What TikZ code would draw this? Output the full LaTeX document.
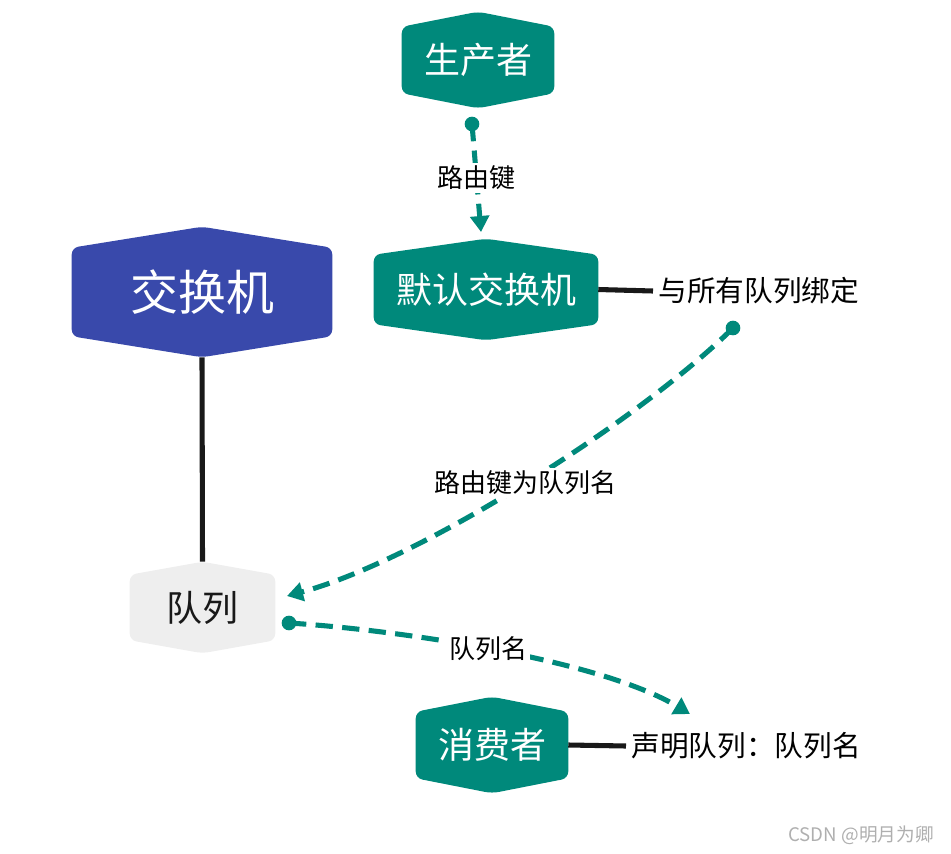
\documentclass[tikz,border=0pt]{standalone}
\usepackage{fontspec}
\setmainfont{Noto Sans CJK SC}
\usetikzlibrary{arrows.meta,backgrounds}
\definecolor{tealc}{RGB}{0,137,123}
\definecolor{bluec}{RGB}{57,73,171}
\definecolor{greyc}{RGB}{238,238,238}
\definecolor{wmark}{RGB}{175,175,175}
\newcommand\hexfill[3]{%
  \fill[#3, rounded corners=5pt] (#1.north) -- ([yshift=-#2]#1.north east) -- ([yshift=#2]#1.south east) -- (#1.south) -- ([yshift=#2]#1.south west) -- ([yshift=-#2]#1.north west) -- cycle;}
\tikzset{
  hexnode/.style={inner sep=0pt, text=white, font=\fontsize{27pt}{27pt}\selectfont},
  lbl/.style={inner sep=4pt, text=black, font=\fontsize{21.5pt}{21.5pt}\selectfont},
  elbl/.style={inner sep=2pt, fill=white, text=black, font=\fontsize{19.5pt}{19.5pt}\selectfont},
  solidline/.style={line width=3.8pt, draw=black!90},
  dashline/.style={line width=3.8pt, draw=tealc, dash pattern=on 13pt off 7pt, -{Triangle[width=14pt,length=12pt]}},
  dotc/.style={fill=tealc},
}
\begin{document}
\begin{tikzpicture}[x=0.75pt,y=-0.75pt]
\useasboundingbox (0,0) rectangle (951,854);
% nodes
\node[hexnode, minimum width=114pt, minimum height=72pt] (pro) at (478,60) {生产者};
\node[hexnode, minimum width=168pt, minimum height=75.75pt] (de) at (486,289.5) {默认交换机};
\node[hexnode, minimum width=195pt, minimum height=97.5pt, font=\fontsize{36pt}{36pt}\selectfont] (ex) at (202,292) {交换机};
\node[hexnode, minimum width=108.75pt, minimum height=68.25pt, text=black!90] (q) at (202.5,607.5) {队列};
\node[hexnode, minimum width=114pt, minimum height=72pt] (con) at (492,745) {消费者};
\node[lbl, anchor=west] (bind) at (653,291) {与所有队列绑定};
\node[lbl, anchor=west] (decl) at (626,746) {声明队列：队列名};
\node[text=wmark, inner sep=0pt, font=\fontsize{14pt}{14pt}\selectfont] (wm) at (861,835) {CSDN @明月为卿};
\begin{pgfonlayer}{background}
  \hexfill{pro}{11.25pt}{tealc}
  \hexfill{de}{12pt}{tealc}
  \hexfill{ex}{15.75pt}{bluec}
  \hexfill{q}{9.75pt}{greyc}
  \hexfill{con}{11.25pt}{tealc}
\end{pgfonlayer}
% connector end points
\coordinate (pd) at (472,124);
\coordinate (pt) at (481,232);
\coordinate (bd) at (733,328);
\coordinate (qt) at (287,596);
\coordinate (qd) at (289,623);
\coordinate (ct) at (690,714);
% solid lines
\draw[solidline] (ex.south) -- (q.north);
\draw[solidline] (de.east) -- (bind.west);
\draw[solidline] (con.east) -- (decl.west);
% dashed connectors
\draw[dashline] (pd) -- node[elbl] (l1) {路由键} (pt);
\draw[dashline] (bd) .. controls (640,420) and (420,560) .. node[elbl, pos=0.5] (l2) {路由键为队列名} (qt);
\draw[dashline] (qd) .. controls (400,630) and (600,660) .. node[elbl, pos=0.48] (l3) {队列名} (ct);
\fill[dotc] (pd) circle (5.5pt);
\fill[dotc] (bd) circle (5.5pt);
\fill[dotc] (qd) circle (5.5pt);
\end{tikzpicture}
\end{document}
